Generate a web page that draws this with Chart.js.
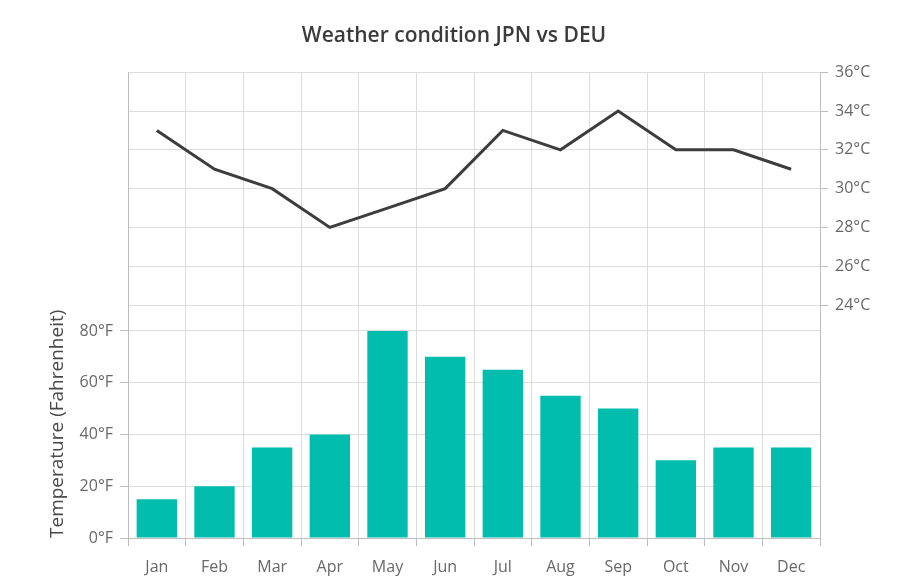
<!DOCTYPE html>
<html>
<head>
<meta charset="utf-8">
<script src="https://cdn.jsdelivr.net/npm/chart.js@4"></script>
<style>
  html, body { margin: 0; padding: 0; background: #fff; }
  #wrap { width: 908px; height: 580px; }
</style>
</head>
<body>
<div id="wrap"><canvas id="weatherChart" width="908" height="580"></canvas></div>
<script>
var months = ['Jan', 'Feb', 'Mar', 'Apr', 'May', 'Jun', 'Jul', 'Aug', 'Sep', 'Oct', 'Nov', 'Dec'];
var jpnFahrenheit = [15, 20, 35, 40, 80, 70, 65, 55, 50, 30, 35, 35];
var deuCelsius = [33, 31, 30, 28, 29, 30, 33, 32, 34, 32, 32, 31];
var fahrenheitTicks = [0, 20, 40, 60, 80];
var celsiusTicks = [24, 26, 28, 30, 32, 34, 36];

var fontName = "'Segoe UI', 'Open Sans', sans-serif";
var gridColor = '#dddddd';
var axisColor = '#bdbdbd';
var labelColor = '#686868';

var ctx = document.getElementById('weatherChart').getContext('2d');

var weatherChart = new Chart(ctx, {
  data: {
    labels: months,
    datasets: [
      {
        type: 'line',
        label: 'DEU',
        data: deuCelsius,
        yAxisID: 'yC',
        borderColor: '#3d3d3d',
        borderWidth: 3,
        pointRadius: 0,
        tension: 0,
        fill: false
      },
      {
        type: 'bar',
        label: 'JPN',
        data: jpnFahrenheit,
        yAxisID: 'yF',
        backgroundColor: '#00bdae',
        barPercentage: 0.7,
        categoryPercentage: 1
      }
    ]
  },
  options: {
    responsive: false,
    animation: false,
    layout: { padding: 0 },
    plugins: {
      legend: { display: false },
      tooltip: { enabled: false },
      title: {
        display: true,
        text: 'Weather condition JPN vs DEU',
        color: '#3b3b3b',
        font: { family: fontName, size: 21, weight: '600' },
        padding: { top: 23, bottom: 24 }
      }
    },
    scales: {
      x: {
        offset: true,
        grid: { color: gridColor, offset: true, tickLength: 8, tickColor: axisColor },
        border: { color: axisColor },
        ticks: { color: labelColor, font: { family: fontName, size: 16 }, padding: 12 },
        afterFit: function (scale) { scale.height = 42; }
      },
      yF: {
        position: 'left',
        min: 0,
        max: 180,
        afterBuildTicks: function (scale) {
          scale.ticks = fahrenheitTicks.map(function (v) { return { value: v }; });
        },
        afterFit: function (scale) { scale.width = 128; },
        grid: { color: gridColor, tickLength: 8, tickColor: axisColor },
        border: { color: axisColor },
        ticks: {
          color: labelColor,
          font: { family: fontName, size: 16 },
          padding: 7,
          callback: function (v) { return v + '°F'; }
        },
        title: {
          display: true,
          text: 'Temperature (Fahrenheit)',
          align: 'start',
          color: '#4a4a4a',
          font: { family: fontName, size: 19 },
          padding: { top: 46, bottom: 0 }
        }
      },
      yC: {
        position: 'right',
        min: 12,
        max: 36,
        afterBuildTicks: function (scale) {
          scale.ticks = celsiusTicks.map(function (v) { return { value: v }; });
        },
        afterFit: function (scale) { scale.width = 88; },
        grid: { color: gridColor, tickLength: 8, tickColor: axisColor },
        border: { color: axisColor },
        ticks: {
          color: labelColor,
          font: { family: fontName, size: 16 },
          padding: 7,
          callback: function (v) { return v + '°C'; }
        }
      }
    }
  }
});
</script>
</body>
</html>
